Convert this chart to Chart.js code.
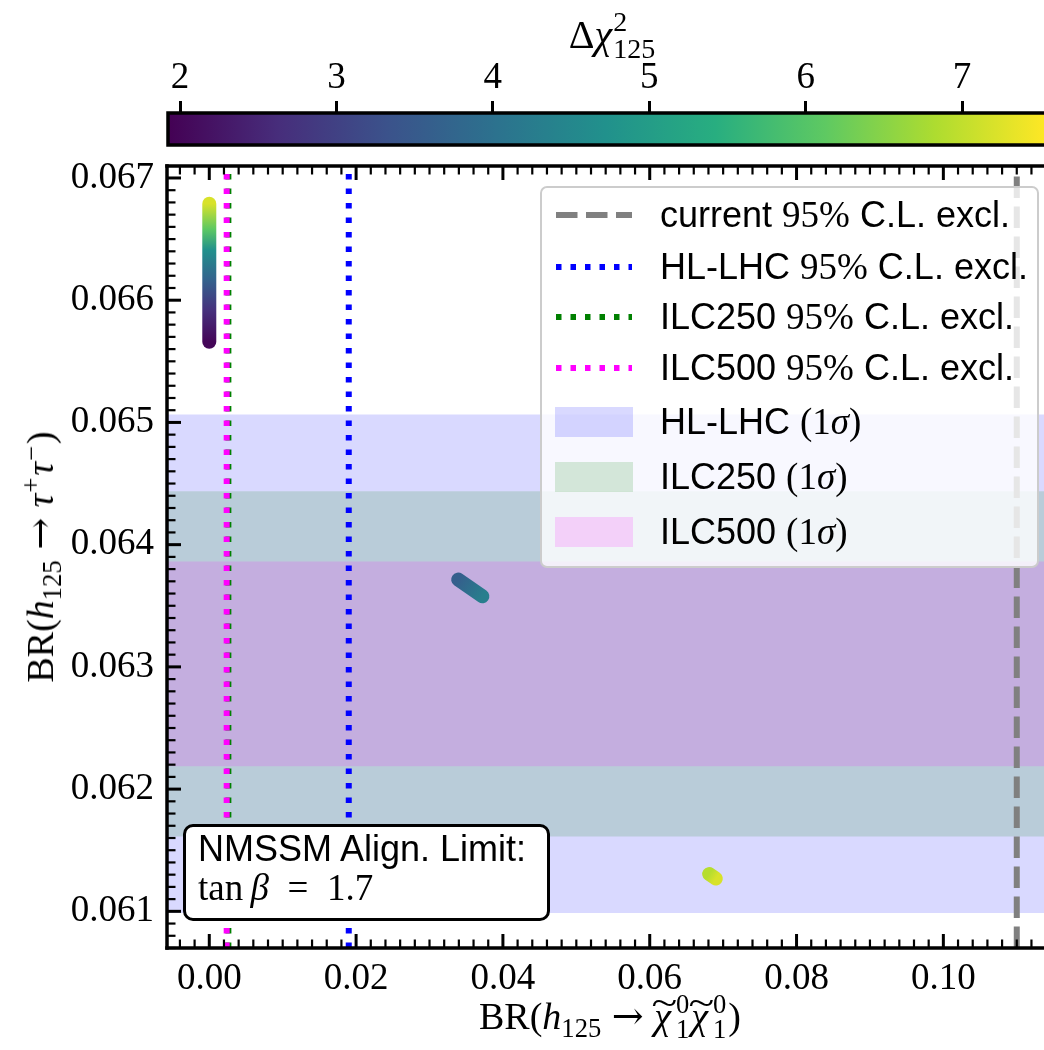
<!DOCTYPE html>
<html>
<head>
<meta charset="utf-8">
<script src="https://cdn.jsdelivr.net/npm/chart.js@4.4.1/dist/chart.umd.min.js"></script>
<style>
  body { margin: 0; background: #fff; overflow: hidden; }
  #wrap { position: relative; width: 1044px; height: 1050px; }
  canvas { position: absolute; left: 0; top: 0; display: block; }
  .math { position: absolute; font-family: "Liberation Serif", serif; font-size: 38px; line-height: 1; color: #000; white-space: nowrap; }
  .math i { font-style: italic; }
  .math sub, .math sup { font-size: 0.7em; line-height: 0; }
  .math sub { vertical-align: -0.3em; }
  .math sup { vertical-align: 0.5em; margin-left: 1px; margin-right: 2px; }
  .ss { display: inline-block; font-size: 0.7em; line-height: 0.95; vertical-align: -0.35em; text-align: left; margin-left: 1px; }
  .ss span { display: block; }
  .til + .ss { margin-left: 5px; margin-right: 2px; }
  .arr { font-family: "DejaVu Serif", serif; font-size: 1em; margin: 0 0.28em; }
  .til { position: relative; display: inline-block; }
  .til .mark { position: absolute; left: 0.0em; top: -0.36em; font-style: normal; font-size: 1em; transform: scaleX(1.25); }
  .sans { font-family: "Liberation Sans", sans-serif; }
  .serif { font-family: "Liberation Serif", serif; }
  #legend { position: absolute; left: 540px; top: 186px; width: 495px; height: 378px; border: 2px solid #cccccc; border-radius: 7px; background: rgba(255,255,255,0.8); }
  .row { position: absolute; left: 0; height: 40px; display: flex; align-items: center; }
  .row svg { position: absolute; left: 13px; }
  .row .lbl { position: absolute; left: 118px; font-size: 36px; line-height: 40px; white-space: nowrap; color: #000; }
  .lbl .serif { font-size: 37px; }
  #note { position: absolute; left: 183px; top: 824px; width: 361px; height: 91px; border: 3px solid #000; border-radius: 10px; background: #fff; }
  #note div { position: absolute; left: 12px; font-size: 36px; line-height: 36px; white-space: nowrap; color: #000; }
</style>
</head>
<body>
<div id="wrap">
  <canvas id="main" width="1044" height="1050"></canvas>
  <canvas id="cbar" width="1044" height="148"></canvas>

  <div class="math" id="cbTitle" style="left:612px; top:36px; font-size:40px; transform:translate(-50%,-50%);">Δ<i>χ</i><span class="ss"><span>2</span><span>125</span></span></div>
  <div class="math" id="xTitle" style="left:610px; top:1017px; transform:translate(-50%,-50%);">BR(<i>h</i><sub>125</sub><span class="arr">→</span><span class="til"><i>χ</i><span class="mark">~</span></span><span class="ss"><span>0</span><span>1</span></span><span class="til"><i>χ</i><span class="mark">~</span></span><span class="ss"><span>0</span><span>1</span></span>)</div>
  <div class="math" id="yTitle" style="left:40px; top:557px; transform:translate(-50%,-50%) rotate(-90deg);">BR(<i>h</i><sub>125</sub><span class="arr">→</span><i>τ</i><sup>+</sup><i>τ</i><sup>−</sup>)</div>

  <div id="legend"></div>

  <div id="note">
    <div class="sans" style="top:4px;">NMSSM Align. Limit:</div>
    <div class="serif" style="top:43px; font-size:37px;">tan&#8201;<i>β</i>&#8194;=&#8194;1.7</div>
  </div>
</div>

<script>
// axis limits
const X_MIN = -0.00576, X_MAX = 0.11371;
const Y_MIN = 0.06070, Y_MAX = 0.067098;
const CB_MIN = 1.923, CB_MAX = 7.524;

// tick values
const xTicks = [0.00, 0.02, 0.04, 0.06, 0.08, 0.10];
const yTicks = [0.061, 0.062, 0.063, 0.064, 0.065, 0.066, 0.067];
const cbTicks = [2, 3, 4, 5, 6, 7];

// scan points (three strands), colour = delta chi^2
const scanAX = [0.0000, 0.0000, 0.0000, 0.0000, 0.0000, 0.0000];
const scanAY = [0.06566, 0.06592, 0.06617, 0.06641, 0.06658, 0.06679];
const scanAChi = [2.0, 2.7, 3.7, 4.7, 6.1, 7.2];

const scanBX = [0.0339, 0.0372];
const scanBY = [0.063714, 0.063577];
const scanBChi = [3.6, 4.3];

const scanCX = [0.0681, 0.0690];
const scanCY = [0.061305, 0.061268];
const scanCChi = [6.9, 7.2];

// 1 sigma bands
const bandNames = ['HL-LHC (1σ)', 'ILC250 (1σ)', 'ILC500 (1σ)'];
const bandLow = [0.060987, 0.061613, 0.062186];
const bandHigh = [0.065064, 0.064436, 0.063863];
const bandColors = ['rgba(0,0,255,0.15)', 'rgba(0,128,0,0.15)', 'rgba(255,0,255,0.15)'];

// 95% C.L. exclusion limits on BR(h -> chi chi)
const exclNames = ['current 95% C.L. excl.', 'HL-LHC 95% C.L. excl.', 'ILC250 95% C.L. excl.', 'ILC500 95% C.L. excl.'];
const exclX = [0.1100, 0.0190, 0.0026, 0.00237];
const exclColors = ['#808080', '#0000ff', '#008000', '#ff00ff'];
const exclDash = [[21.5, 8.5], [5.5, 9], [5.5, 9], [5.5, 9]];

const viridisRGB = [
  [68, 1, 84], [71, 45, 123], [59, 82, 139], [44, 114, 142], [33, 145, 140],
  [40, 174, 128], [94, 201, 98], [173, 220, 48], [253, 231, 37]
];

function viridis(t) {
  t = Math.min(1, Math.max(0, t));
  const s = t * (viridisRGB.length - 1);
  const i = Math.min(Math.floor(s), viridisRGB.length - 2);
  const f = s - i;
  const a = viridisRGB[i], b = viridisRGB[i + 1];
  const c = a.map((v, k) => Math.round(v + (b[k] - v) * f));
  return 'rgb(' + c.join(',') + ')';
}
const norm = (v) => (v - CB_MIN) / (CB_MAX - CB_MIN);

function strandColor(xs, ys, cs) {
  return (ctx) => {
    const chart = ctx.chart;
    const sx = chart.scales.x, sy = chart.scales.y;
    if (!sx || !sy || !chart.chartArea) return viridis(norm(cs[0]));
    const n = xs.length;
    const x0 = sx.getPixelForValue(xs[0]), y0 = sy.getPixelForValue(ys[0]);
    const x1 = sx.getPixelForValue(xs[n - 1]), y1 = sy.getPixelForValue(ys[n - 1]);
    const g = chart.ctx.createLinearGradient(x0, y0, x1, y1);
    const dx = x1 - x0, dy = y1 - y0, L2 = dx * dx + dy * dy || 1;
    for (let i = 0; i < n; i++) {
      const px = sx.getPixelForValue(xs[i]), py = sy.getPixelForValue(ys[i]);
      const t = Math.min(1, Math.max(0, ((px - x0) * dx + (py - y0) * dy) / L2));
      g.addColorStop(t, viridis(norm(cs[i])));
    }
    return g;
  };
}

const toPts = (xs, ys) => xs.map((x, i) => ({ x: x, y: ys[i] }));

const datasets = [];
bandLow.forEach((lo, i) => {
  datasets.push({
    data: [{ x: X_MIN, y: bandHigh[i] }, { x: X_MAX, y: bandHigh[i] }],
    borderWidth: 0,
    borderColor: 'rgba(0,0,0,0)',
    backgroundColor: bandColors[i],
    fill: { value: lo },
    pointRadius: 0,
    order: 20 - i
  });
});
exclX.forEach((xv, i) => {
  datasets.push({
    data: [{ x: xv, y: Y_MIN }, { x: xv, y: Y_MAX }],
    borderColor: exclColors[i],
    borderWidth: 6,
    borderDash: exclDash[i],
    borderCapStyle: 'butt',
    fill: false,
    pointRadius: 0,
    order: 10 - i
  });
});
[[scanAX, scanAY, scanAChi], [scanBX, scanBY, scanBChi], [scanCX, scanCY, scanCChi]].forEach(([xs, ys, cs]) => {
  datasets.push({
    data: toPts(xs, ys),
    borderColor: strandColor(xs, ys, cs),
    borderWidth: 14,
    borderCapStyle: 'round',
    borderJoinStyle: 'round',
    fill: false,
    tension: 0,
    pointRadius: 0,
    order: 1
  });
});

const tickFont = { family: 'Liberation Serif', size: 37, lineHeight: 1.2 };

// matplotlib style spines and inward ticks
const frame = {
  id: 'frame',
  afterDraw(chart) {
    const { ctx, chartArea: a, scales: { x, y } } = chart;
    ctx.save();
    ctx.strokeStyle = '#000';
    ctx.lineCap = 'butt';
    const seg = (x1, y1, x2, y2, w) => {
      ctx.lineWidth = w;
      ctx.beginPath(); ctx.moveTo(x1, y1); ctx.lineTo(x2, y2); ctx.stroke();
    };
    for (let k = Math.ceil(X_MIN / 0.002); k * 0.002 <= X_MAX; k++) {
      const v = k * 0.002;
      const px = x.getPixelForValue(v);
      const major = Math.abs(v / 0.02 - Math.round(v / 0.02)) < 1e-6;
      const len = major ? 14 : 8.5, w = major ? 3 : 2.2;
      seg(px, a.bottom, px, a.bottom - len, w);
      seg(px, a.top, px, a.top + len, w);
    }
    for (let k = Math.ceil(Y_MIN / 0.0001 - 1e-6); k * 0.0001 <= Y_MAX; k++) {
      const v = k * 0.0001;
      const py = y.getPixelForValue(v);
      const major = Math.abs(v / 0.001 - Math.round(v / 0.001)) < 1e-6;
      const len = major ? 14 : 8.5, w = major ? 3 : 2.2;
      seg(a.left, py, a.left + len, py, w);
    }
    seg(a.left, a.top - 1.75, a.left, a.bottom + 1.75, 3.5);
    seg(a.left - 1.75, a.top, a.right + 2, a.top, 3.5);
    seg(a.left - 1.75, a.bottom, a.right + 2, a.bottom, 3.5);
    ctx.restore();
  }
};

new Chart(document.getElementById('main'), {
  type: 'line',
  data: { datasets: datasets },
  options: {
    responsive: false,
    animation: false,
    events: [],
    layout: { padding: { top: 166, left: 0, right: 0, bottom: 0 } },
    plugins: { legend: { display: false }, tooltip: { enabled: false } },
    scales: {
      x: {
        type: 'linear', min: X_MIN, max: X_MAX,
        afterBuildTicks: (s) => { s.ticks = xTicks.map(v => ({ value: v })); },
        afterFit: (s) => { s.height = 102; },
        grid: { display: false, drawTicks: false, tickLength: 0 },
        border: { display: false },
        ticks: { font: tickFont, color: '#000', padding: 9, maxRotation: 0, callback: (v) => v.toFixed(2) }
      },
      y: {
        type: 'linear', min: Y_MIN, max: Y_MAX,
        afterBuildTicks: (s) => { s.ticks = yTicks.map(v => ({ value: v })); },
        afterFit: (s) => { s.width = 167; },
        grid: { display: false, drawTicks: false, tickLength: 0 },
        border: { display: false },
        ticks: { font: tickFont, color: '#000', padding: 13, callback: (v) => v.toFixed(3) }
      }
    }
  },
  plugins: [frame]
});

// colour bar
const cbFill = {
  id: 'cbFill',
  beforeDatasetsDraw(chart) {
    const { ctx, chartArea: a } = chart;
    const g = ctx.createLinearGradient(a.left, 0, a.right, 0);
    viridisRGB.forEach((c, i) => g.addColorStop(i / (viridisRGB.length - 1), 'rgb(' + c.join(',') + ')'));
    ctx.save();
    ctx.fillStyle = g;
    ctx.fillRect(a.left, a.top, a.right - a.left, a.bottom - a.top);
    ctx.lineWidth = 3.5;
    ctx.strokeStyle = '#000';
    ctx.strokeRect(a.left, a.top, a.right - a.left + 4, a.bottom - a.top);
    ctx.restore();
  }
};

new Chart(document.getElementById('cbar'), {
  type: 'line',
  data: { datasets: [] },
  options: {
    responsive: false,
    animation: false,
    events: [],
    layout: { padding: { top: 0, left: 168, right: 0, bottom: 3 } },
    plugins: { legend: { display: false }, tooltip: { enabled: false } },
    scales: {
      x: {
        type: 'linear', position: 'top', min: CB_MIN, max: CB_MAX,
        afterBuildTicks: (s) => { s.ticks = cbTicks.map(v => ({ value: v })); },
        afterFit: (s) => { s.height = 113; },
        grid: { drawOnChartArea: false, drawTicks: true, tickLength: 12, color: '#000', lineWidth: 3 },
        border: { display: false },
        ticks: { font: tickFont, color: '#000', padding: 1, maxRotation: 0 }
      },
      y: { display: false, min: 0, max: 1 }
    }
  },
  plugins: [cbFill]
});

// legend
const legend = document.getElementById('legend');
const rowCenters = [27, 79, 129, 180, 234, 289, 344];
const serifParts = (s) => s.replace('95%', '<span class="serif">95%</span>').replace('(1σ)', '<span class="serif">(1<i>σ</i>)</span>');
exclNames.forEach((name, i) => {
  const dash = exclDash[i].join(' ');
  legend.insertAdjacentHTML('beforeend',
    '<div class="row" style="top:' + (rowCenters[i] - 20) + 'px"><svg width="78" height="30" style="top:5px">' +
    '<line x1="1" y1="15" x2="77" y2="15" stroke="' + exclColors[i] + '" stroke-width="6" stroke-dasharray="' + dash + '"/></svg>' +
    '<span class="lbl sans">' + serifParts(name) + '</span></div>');
});
bandNames.forEach((name, i) => {
  legend.insertAdjacentHTML('beforeend',
    '<div class="row" style="top:' + (rowCenters[i + 4] - 20) + 'px"><svg width="78" height="30" style="top:5px">' +
    '<rect x="0" y="0" width="78" height="30" fill="' + bandColors[i] + '"/></svg>' +
    '<span class="lbl sans">' + serifParts(name) + '</span></div>');
});
</script>
</body>
</html>
